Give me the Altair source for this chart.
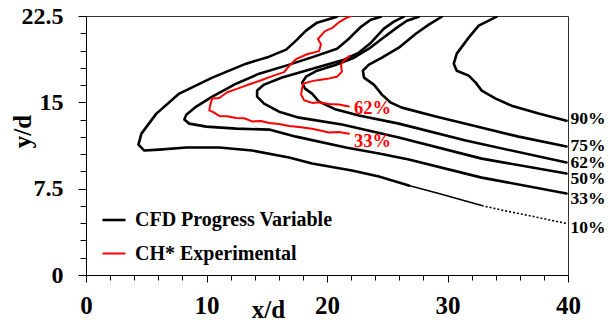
import altair as alt
import pandas as pd

# ---- CFD progress-variable contours (x/d, y/d) ----
c10_x = [20.83, 19.17, 18.26, 17.43, 16.61, 15.20, 13.29, 10.48, 7.74, 5.84, 4.60, 4.35, 4.84, 6.09, 8.32, 11.06, 13.79, 16.85, 18.76, 22.07, 24.31, 26.79]
c10_y = [22.44, 21.92, 21.23, 20.36, 19.58, 18.97, 18.36, 17.15, 15.76, 14.02, 12.28, 11.33, 10.81, 10.89, 11.07, 11.07, 10.81, 10.20, 9.68, 9.07, 8.55, 7.77]
c10_thin_x = [26.79, 29.28, 32.84]
c10_thin_y = [7.77, 7.08, 6.03]
c10_dot_x = [32.84, 34.90, 36.73, 39.88]
c10_dot_y = [6.03, 5.55, 5.17, 4.47]

c33_x = [24.47, 23.65, 22.82, 21.82, 20.83, 18.92, 16.61, 14.37, 12.46, 10.48, 9.15, 8.32, 8.16, 8.57, 9.98, 12.46, 15.20, 17.43, 21.57, 24.31, 26.79, 32.84, 39.88]
c33_y = [22.44, 22.18, 21.57, 20.53, 19.66, 18.97, 18.19, 17.49, 16.62, 15.50, 14.63, 13.93, 13.50, 13.15, 12.89, 12.72, 12.63, 12.02, 11.07, 10.55, 10.03, 8.46, 7.08]

c50_x = [26.38, 25.55, 24.72, 23.65, 22.65, 21.41, 19.09, 16.27, 14.78, 14.20, 14.20, 14.78, 16.02, 17.68, 21.24, 25.96, 32.84, 39.88]
c50_y = [22.44, 22.01, 21.40, 20.18, 19.32, 18.71, 18.01, 17.15, 16.54, 16.02, 15.50, 14.89, 14.19, 13.67, 13.07, 11.94, 10.11, 8.81]

c62_x = [27.62, 26.63, 25.80, 24.56, 23.48, 22.24, 20.75, 19.17, 18.26, 17.93, 18.18, 18.76, 19.34, 20.75, 22.65, 25.96, 31.51, 39.88]
c62_y = [22.44, 22.09, 21.49, 20.53, 19.66, 18.88, 18.27, 17.75, 17.23, 16.71, 16.19, 15.76, 15.06, 14.37, 13.85, 13.15, 11.68, 9.77]

c75_x = [29.53, 28.45, 27.37, 25.96, 24.56, 23.48, 22.98, 23.07, 23.89, 24.56, 25.30, 26.21, 29.03, 31.76, 35.90, 39.88]
c75_y = [22.44, 21.75, 20.96, 19.75, 18.88, 18.27, 17.75, 17.15, 16.54, 15.67, 14.97, 14.54, 13.76, 13.07, 12.02, 11.16]

c90_x = [34.08, 32.59, 31.76, 30.77, 30.52, 30.77, 31.76, 32.34, 32.84, 34.00, 35.32, 37.56, 39.88]
c90_y = [22.44, 21.66, 20.62, 19.23, 18.36, 17.75, 17.32, 16.71, 16.02, 15.32, 14.71, 14.02, 13.41]

# ---- CH* experimental contours ----
r33_x = [21.82, 20.99, 20.17, 19.34, 18.76, 17.68, 16.85, 16.02, 15.20, 14.53, 13.79, 13.13, 12.46, 11.72, 11.06, 10.56, 10.23, 10.31, 10.48, 11.06, 11.72, 12.46, 13.37, 14.37, 15.45, 16.44, 16.85, 17.43, 18.34, 19.34, 19.50, 19.25, 19.83, 20.41, 20.99, 21.57, 21.99]
r33_y = [12.28, 12.42, 12.38, 12.58, 12.70, 12.86, 12.95, 13.12, 13.20, 13.38, 13.34, 13.62, 13.64, 13.80, 13.82, 14.15, 14.30, 14.78, 15.34, 15.38, 15.88, 16.15, 16.50, 16.85, 17.28, 17.62, 18.15, 18.75, 19.18, 19.45, 20.05, 20.50, 21.18, 21.44, 21.95, 22.32, 22.50]

r62_x = [21.82, 20.99, 20.17, 19.34, 18.76, 18.10, 17.85, 17.93, 18.01, 18.68, 19.34, 20.17, 20.83, 21.24, 21.16, 21.49, 21.90]
r62_y = [14.63, 14.82, 14.86, 15.00, 14.95, 15.18, 15.67, 16.19, 16.62, 16.82, 16.95, 17.08, 17.22, 17.67, 18.27, 18.71, 19.05]

# ---- labels ----
lab_text = ["90%", "75%", "62%", "50%", "33%", "10%"]
lab_y = [13.59, 11.24, 9.77, 8.38, 6.64, 4.12]
red_lab_text = ["62%", "33%"]
red_lab_x = [22.24, 22.24]
red_lab_y = [14.54, 11.68]

x_tick_values = list(range(0, 41, 2))
y_tick_values = [0, 1.5, 3, 4.5, 6, 7.5, 9, 10.5, 12, 13.5, 15, 16.5, 18, 19.5, 21, 22.5]

SRC_CFD = "CFD Progress Variable"
SRC_EXP = "CH* Experimental"

def rows(name, src, xs, ys):
    return [{"curve": name, "source": src, "idx": i, "x": a, "y": b} for i, (a, b) in enumerate(zip(xs, ys))]

main = []
main += rows("10", SRC_CFD, c10_x, c10_y)
main += rows("33", SRC_CFD, c33_x, c33_y)
main += rows("50", SRC_CFD, c50_x, c50_y)
main += rows("62", SRC_CFD, c62_x, c62_y)
main += rows("75", SRC_CFD, c75_x, c75_y)
main += rows("90", SRC_CFD, c90_x, c90_y)
main += rows("r33", SRC_EXP, r33_x, r33_y)
main += rows("r62", SRC_EXP, r62_x, r62_y)
df_main = pd.DataFrame(main)
df_thin = pd.DataFrame(rows("10t", SRC_CFD, c10_thin_x, c10_thin_y))
df_dot = pd.DataFrame(rows("10d", SRC_CFD, c10_dot_x, c10_dot_y))
df_lab = pd.DataFrame({"t": lab_text, "y": lab_y, "x": [40.2] * len(lab_text)})
df_rlab = pd.DataFrame({"t": red_lab_text, "x": red_lab_x, "y": red_lab_y})

FONT = "Liberation Serif"

xaxis = alt.Axis(
    values=x_tick_values, tickCount=200, format="d",
    labelExpr="datum.value % 10 === 0 ? datum.label : ''",
    tickSize={"condition": {"test": "datum.value % 10 === 0", "value": 7}, "value": 5},
    labelOverlap=False, labelFlush=False, labelBound=False,
    grid=False, title="x/d", titleX=182, titleY=42, titleBaseline="alphabetic",
    titleAlign="center", labelPadding=11,
)
yaxis = alt.Axis(
    values=y_tick_values, tickCount=200, format="~g",
    labelExpr="datum.value % 7.5 === 0 ? datum.label : ''",
    tickSize={"condition": {"test": "datum.value % 7.5 === 0", "value": 8}, "value": 6},
    labelOverlap=False, labelFlush=False, labelBound=False, labelFontSize=24,
    grid=False, title="y/d", titleX=-64, titleY=115, titleAngle=270,
    titleAlign="center", titleBaseline="middle", labelPadding=15,
)

X = alt.X("x:Q", scale=alt.Scale(domain=[0, 40], nice=False, zero=False), axis=xaxis)
Y = alt.Y("y:Q", scale=alt.Scale(domain=[0, 22.5], nice=False, zero=False), axis=yaxis)

lines = alt.Chart(df_main).mark_line(strokeJoin="round", strokeCap="round", clip=True).encode(
    x=X, y=Y,
    color=alt.Color("source:N", scale=alt.Scale(domain=[SRC_CFD, SRC_EXP], range=["#000000", "#ff0000"]),
                    legend=alt.Legend(title=None, orient="none", legendX=15, legendY=191,
                                      symbolType="stroke", symbolSize=529, symbolStrokeWidth=3,
                                      labelFont=FONT, labelFontSize=20, labelFontWeight="bold",
                                      labelColor="black", labelLimit=400, rowPadding=11,
                                      labelOffset=8, padding=0)),
    strokeWidth=alt.StrokeWidth("source:N", scale=alt.Scale(domain=[SRC_CFD, SRC_EXP], range=[2.6, 2.0]), legend=None),
    detail="curve:N",
    order="idx:Q",
)
thin = alt.Chart(df_thin).mark_line(color="black", strokeWidth=1.6).encode(x="x:Q", y="y:Q", order="idx:Q")
dot = alt.Chart(df_dot).mark_line(color="black", strokeWidth=1.6, strokeDash=[2, 2]).encode(x="x:Q", y="y:Q", order="idx:Q")

labels = alt.Chart(df_lab).mark_text(font=FONT, fontWeight="bold", fontSize=17.5, align="left",
                                     baseline="middle", color="black").encode(x="x:Q", y="y:Q", text="t:N")
rlabels = alt.Chart(df_rlab).mark_text(font=FONT, fontWeight="bold", fontSize=18.5, align="left",
                                       baseline="middle", color="#ff0000").encode(x="x:Q", y="y:Q", text="t:N")

chart = alt.layer(lines, thin, dot, labels, rlabels).properties(
    width=482, height=259,
    autosize=alt.AutoSizeParams(type="none"),
    padding={"left": 78, "top": 8, "right": 39, "bottom": 43},
).configure_view(stroke="#333333", strokeWidth=1).configure_axis(
    labelFont=FONT, labelFontWeight="bold", labelFontSize=25, labelColor="black",
    titleFont=FONT, titleFontWeight="bold", titleFontSize=25, titleColor="black",
    domainColor="black", tickColor="black", domainWidth=1, tickWidth=1,
)

chart.save("out.html", embed_options={"renderer": "svg", "actions": False})
